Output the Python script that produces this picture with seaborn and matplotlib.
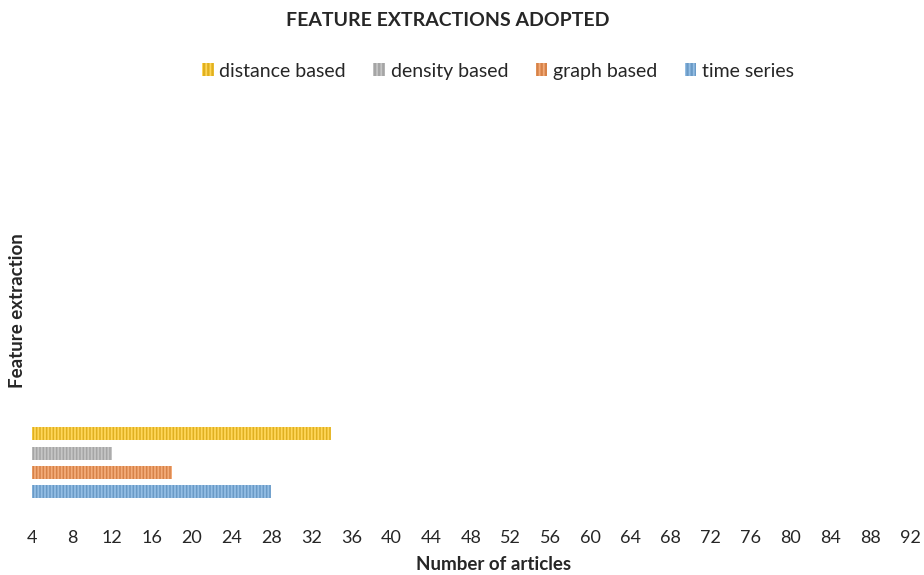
import matplotlib
matplotlib.use("Agg")
import matplotlib.pyplot as plt
import matplotlib.colors as mcolors
import numpy as np
import pandas as pd
import seaborn as sns

# Number of articles per feature-extraction approach
methods = ["distance based", "density based", "graph based", "time series"]
articles = [34, 12, 18, 28]
colors = ["#FFC000", "#A5A5A5", "#ED7D31", "#5B9BD5"]
x_ticks = list(range(4, 93, 4))

df = pd.DataFrame({
    "group": ["Feature extraction"] * len(methods),
    "method": methods,
    "articles": articles,
})

sns.set_theme(style="white")
plt.rcParams["font.family"] = ["Lato", "DejaVu Sans"]
plt.rcParams["hatch.linewidth"] = 1.3

fig = plt.figure(figsize=(9.24, 5.75), dpi=100)
ax = fig.add_axes([32 / 924, 1 - 515 / 575, (910 - 32) / 924, (515 - 120) / 575])

sns.barplot(data=df, y="group", x="articles", hue="method", hue_order=methods,
            palette=colors, orient="h", gap=0.32, ax=ax, legend=True)


def lighten(c, amt=0.35):
    r, g, b = mcolors.to_rgb(c)
    return (r + (1 - r) * amt, g + (1 - g) * amt, b + (1 - b) * amt)


for cont, c in zip(ax.containers, colors):
    for bar in cont:
        bar.set_hatch("|||||")
        bar.set_edgecolor(lighten(c))
        bar.set_linewidth(0)

leg = ax.get_legend()
for h, c in zip(leg.legend_handles, colors):
    h.set_hatch("||||")
    h.set_edgecolor(lighten(c))
    h.set_linewidth(0)

sns.move_legend(ax, "center", bbox_to_anchor=(498 / 924, 1 - 71 / 575),
                bbox_transform=fig.transFigure, ncol=4, frameon=False,
                title=None, fontsize=14, handlelength=0.6, handleheight=0.65,
                handletextpad=0.3, columnspacing=1.4)

ax.set_xlim(4, 92)
ax.set_ylim(0.546, -3.574)
ax.set_xticks(x_ticks)
ax.set_xticklabels([str(t) for t in x_ticks], fontsize=13)
ax.set_yticks([])
ax.tick_params(axis="x", length=0, pad=11)
for s in ax.spines.values():
    s.set_visible(False)

ax.set_xlabel("Number of articles", fontsize=13.5, fontweight="bold")
ax.xaxis.set_label_coords((494 - 32) / 878, (515 - 565) / 395)
ax.xaxis.label.set_va("center")
ax.set_ylabel("Feature extraction", fontsize=13.5, fontweight="bold")
ax.yaxis.set_label_coords((18 - 32) / 878, (515 - 311) / 395)
ax.yaxis.label.set_va("center")
fig.text(448 / 924, 1 - 21 / 575, "FEATURE EXTRACTIONS ADOPTED", ha="center", va="center",
         fontsize=14, fontweight="bold")

fig.savefig("out.png", dpi=100)
